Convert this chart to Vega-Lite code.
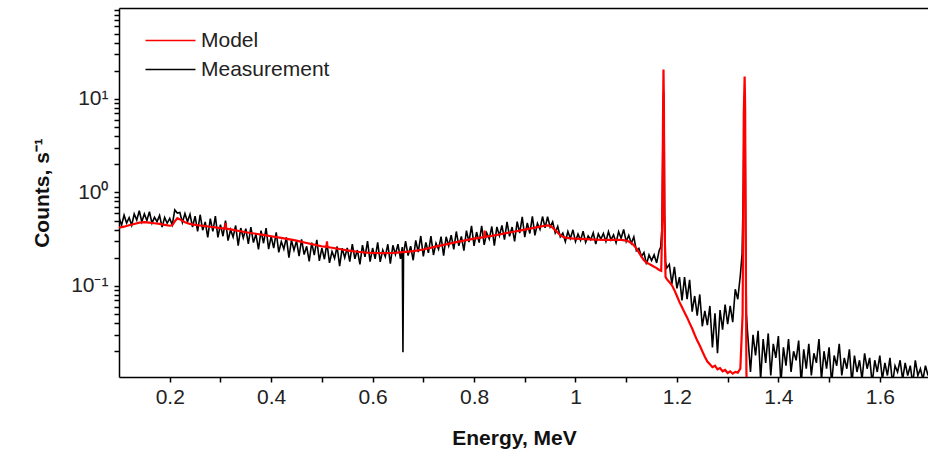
{
  "$schema": "https://vega.github.io/schema/vega-lite/v6.json",
  "width": 809,
  "height": 369,
  "autosize": {"type": "none"},
  "padding": {"left": 119, "top": 8, "right": 0, "bottom": 73},
  "background": "white",
  "config": {
    "font": "Liberation Sans",
    "view": {"stroke": null},
    "axis": {"grid": false}
  },
  "datasets": {
    "measurement": [
      {"E": 0.100, "C": 0.539}, {"E": 0.105, "C": 0.446}, {"E": 0.110, "C": 0.570}, {"E": 0.115, "C": 0.470},
      {"E": 0.120, "C": 0.536}, {"E": 0.125, "C": 0.445}, {"E": 0.130, "C": 0.588}, {"E": 0.135, "C": 0.506},
      {"E": 0.140, "C": 0.637}, {"E": 0.145, "C": 0.485}, {"E": 0.150, "C": 0.589}, {"E": 0.155, "C": 0.501},
      {"E": 0.160, "C": 0.621}, {"E": 0.165, "C": 0.469}, {"E": 0.170, "C": 0.541}, {"E": 0.175, "C": 0.487},
      {"E": 0.180, "C": 0.566}, {"E": 0.185, "C": 0.425}, {"E": 0.190, "C": 0.540}, {"E": 0.195, "C": 0.468},
      {"E": 0.200, "C": 0.528}, {"E": 0.205, "C": 0.450}, {"E": 0.210, "C": 0.650}, {"E": 0.215, "C": 0.601},
      {"E": 0.220, "C": 0.609}, {"E": 0.225, "C": 0.477}, {"E": 0.230, "C": 0.594}, {"E": 0.235, "C": 0.485},
      {"E": 0.240, "C": 0.584}, {"E": 0.245, "C": 0.427},
      {"E": 0.250, "C": 0.558}, {"E": 0.255, "C": 0.383}, {"E": 0.260, "C": 0.577}, {"E": 0.265, "C": 0.394},
      {"E": 0.270, "C": 0.483}, {"E": 0.275, "C": 0.331}, {"E": 0.280, "C": 0.525}, {"E": 0.285, "C": 0.384},
      {"E": 0.290, "C": 0.558}, {"E": 0.295, "C": 0.330}, {"E": 0.300, "C": 0.452}, {"E": 0.305, "C": 0.340},
      {"E": 0.310, "C": 0.500}, {"E": 0.315, "C": 0.305}, {"E": 0.320, "C": 0.399}, {"E": 0.325, "C": 0.333},
      {"E": 0.330, "C": 0.443}, {"E": 0.335, "C": 0.270}, {"E": 0.340, "C": 0.416}, {"E": 0.345, "C": 0.326},
      {"E": 0.350, "C": 0.410}, {"E": 0.355, "C": 0.282}, {"E": 0.360, "C": 0.425}, {"E": 0.365, "C": 0.291},
      {"E": 0.370, "C": 0.357}, {"E": 0.375, "C": 0.246}, {"E": 0.380, "C": 0.390}, {"E": 0.385, "C": 0.286},
      {"E": 0.390, "C": 0.416}, {"E": 0.395, "C": 0.247}, {"E": 0.400, "C": 0.339}, {"E": 0.405, "C": 0.254},
      {"E": 0.410, "C": 0.374}, {"E": 0.415, "C": 0.228}, {"E": 0.420, "C": 0.298}, {"E": 0.425, "C": 0.248},
      {"E": 0.430, "C": 0.330}, {"E": 0.435, "C": 0.200}, {"E": 0.440, "C": 0.308}, {"E": 0.445, "C": 0.241},
      {"E": 0.450, "C": 0.303}, {"E": 0.455, "C": 0.208}, {"E": 0.460, "C": 0.315}, {"E": 0.465, "C": 0.216},
      {"E": 0.470, "C": 0.265}, {"E": 0.475, "C": 0.183}, {"E": 0.480, "C": 0.291}, {"E": 0.485, "C": 0.213},
      {"E": 0.490, "C": 0.311}, {"E": 0.495, "C": 0.185}, {"E": 0.500, "C": 0.254}, {"E": 0.505, "C": 0.193},
      {"E": 0.510, "C": 0.287}, {"E": 0.515, "C": 0.176}, {"E": 0.520, "C": 0.233}, {"E": 0.525, "C": 0.197},
      {"E": 0.530, "C": 0.264}, {"E": 0.535, "C": 0.163}, {"E": 0.540, "C": 0.253}, {"E": 0.545, "C": 0.201},
      {"E": 0.550, "C": 0.255}, {"E": 0.555, "C": 0.182}, {"E": 0.560, "C": 0.280}, {"E": 0.565, "C": 0.195},
      {"E": 0.570, "C": 0.242}, {"E": 0.575, "C": 0.170}, {"E": 0.580, "C": 0.273}, {"E": 0.585, "C": 0.204},
      {"E": 0.590, "C": 0.302}, {"E": 0.595, "C": 0.182}, {"E": 0.600, "C": 0.254}, {"E": 0.605, "C": 0.195},
      {"E": 0.610, "C": 0.292}, {"E": 0.615, "C": 0.181}, {"E": 0.620, "C": 0.242}, {"E": 0.625, "C": 0.206},
      {"E": 0.630, "C": 0.279}, {"E": 0.635, "C": 0.173}, {"E": 0.640, "C": 0.272}, {"E": 0.645, "C": 0.217},
      {"E": 0.650, "C": 0.279}, {"E": 0.655, "C": 0.195}, {"E": 0.6585, "C": 0.26}, {"E": 0.6598, "C": 0.0195},
      {"E": 0.661, "C": 0.22}, {"E": 0.665, "C": 0.301}, {"E": 0.670, "C": 0.211}, {"E": 0.675, "C": 0.266},
      {"E": 0.680, "C": 0.188}, {"E": 0.685, "C": 0.307}, {"E": 0.690, "C": 0.230}, {"E": 0.695, "C": 0.342},
      {"E": 0.700, "C": 0.207}, {"E": 0.705, "C": 0.292}, {"E": 0.710, "C": 0.226}, {"E": 0.715, "C": 0.341},
      {"E": 0.720, "C": 0.214}, {"E": 0.725, "C": 0.287}, {"E": 0.730, "C": 0.247}, {"E": 0.735, "C": 0.337},
      {"E": 0.740, "C": 0.211}, {"E": 0.745, "C": 0.335}, {"E": 0.750, "C": 0.269}, {"E": 0.755, "C": 0.349},
      {"E": 0.760, "C": 0.246}, {"E": 0.765, "C": 0.382}, {"E": 0.770, "C": 0.268}, {"E": 0.775, "C": 0.339},
      {"E": 0.780, "C": 0.239}, {"E": 0.785, "C": 0.390}, {"E": 0.790, "C": 0.294}, {"E": 0.795, "C": 0.439},
      {"E": 0.800, "C": 0.268}, {"E": 0.805, "C": 0.377}, {"E": 0.810, "C": 0.291}, {"E": 0.815, "C": 0.440},
      {"E": 0.820, "C": 0.275}, {"E": 0.825, "C": 0.369}, {"E": 0.830, "C": 0.317}, {"E": 0.835, "C": 0.432},
      {"E": 0.840, "C": 0.270}, {"E": 0.845, "C": 0.427}, {"E": 0.850, "C": 0.344}, {"E": 0.855, "C": 0.444},
      {"E": 0.860, "C": 0.313}, {"E": 0.865, "C": 0.484}, {"E": 0.870, "C": 0.339}, {"E": 0.875, "C": 0.426},
      {"E": 0.880, "C": 0.300}, {"E": 0.885, "C": 0.488}, {"E": 0.890, "C": 0.367}, {"E": 0.895, "C": 0.547},
      {"E": 0.900, "C": 0.333}, {"E": 0.905, "C": 0.471}, {"E": 0.910, "C": 0.364}, {"E": 0.915, "C": 0.553},
      {"E": 0.920, "C": 0.347}, {"E": 0.925, "C": 0.467}, {"E": 0.930, "C": 0.403}, {"E": 0.935, "C": 0.552},
      {"E": 0.940, "C": 0.417}, {"E": 0.945, "C": 0.549}, {"E": 0.950, "C": 0.427}, {"E": 0.955, "C": 0.484},
      {"E": 0.960, "C": 0.369}, {"E": 0.965, "C": 0.433}, {"E": 0.970, "C": 0.335}, {"E": 0.975, "C": 0.368},
      {"E": 0.980, "C": 0.297}, {"E": 0.985, "C": 0.381}, {"E": 0.990, "C": 0.321}, {"E": 0.995, "C": 0.398},
      {"E": 1.000, "C": 0.298}, {"E": 1.005, "C": 0.358}, {"E": 1.010, "C": 0.307}, {"E": 1.015, "C": 0.384},
      {"E": 1.020, "C": 0.293}, {"E": 1.025, "C": 0.343}, {"E": 1.030, "C": 0.312}, {"E": 1.035, "C": 0.369},
      {"E": 1.040, "C": 0.281}, {"E": 1.045, "C": 0.361}, {"E": 1.050, "C": 0.317}, {"E": 1.055, "C": 0.364},
      {"E": 1.060, "C": 0.299}, {"E": 1.065, "C": 0.380}, {"E": 1.070, "C": 0.311}, {"E": 1.075, "C": 0.352},
      {"E": 1.080, "C": 0.289}, {"E": 1.085, "C": 0.379}, {"E": 1.090, "C": 0.323}, {"E": 1.095, "C": 0.401},
      {"E": 1.100, "C": 0.298}, {"E": 1.105, "C": 0.348}, {"E": 1.110, "C": 0.285}, {"E": 1.115, "C": 0.334},
      {"E": 1.120, "C": 0.238}, {"E": 1.125, "C": 0.252}, {"E": 1.130, "C": 0.207}, {"E": 1.135, "C": 0.228},
      {"E": 1.140, "C": 0.170}, {"E": 1.145, "C": 0.215}, {"E": 1.150, "C": 0.187}, {"E": 1.155, "C": 0.215},
      {"E": 1.160, "C": 0.176}, {"E": 1.165, "C": 0.239}, {"E": 1.168, "C": 0.26}, {"E": 1.1705, "C": 0.42},
      {"E": 1.1720, "C": 2.5}, {"E": 1.1730, "C": 8}, {"E": 1.1738, "C": 12}, {"E": 1.1748, "C": 5},
      {"E": 1.1758, "C": 0.6}, {"E": 1.1775, "C": 0.18}, {"E": 1.180, "C": 0.155}, {"E": 1.185, "C": 0.17},
      {"E": 1.190, "C": 0.105}, {"E": 1.195, "C": 0.16}, {"E": 1.200, "C": 0.094}, {"E": 1.205, "C": 0.124},
      {"E": 1.210, "C": 0.070}, {"E": 1.215, "C": 0.124}, {"E": 1.220, "C": 0.072}, {"E": 1.225, "C": 0.116},
      {"E": 1.230, "C": 0.053}, {"E": 1.235, "C": 0.078}, {"E": 1.240, "C": 0.048}, {"E": 1.245, "C": 0.081},
      {"E": 1.250, "C": 0.037}, {"E": 1.255, "C": 0.054}, {"E": 1.260, "C": 0.038}, {"E": 1.265, "C": 0.061},
      {"E": 1.270, "C": 0.022}, {"E": 1.275, "C": 0.051}, {"E": 1.280, "C": 0.019}, {"E": 1.285, "C": 0.055},
      {"E": 1.290, "C": 0.034}, {"E": 1.295, "C": 0.063}, {"E": 1.300, "C": 0.039}, {"E": 1.305, "C": 0.061},
      {"E": 1.310, "C": 0.041}, {"E": 1.315, "C": 0.092}, {"E": 1.320, "C": 0.072}, {"E": 1.325, "C": 0.13},
      {"E": 1.3285, "C": 0.22}, {"E": 1.3310, "C": 1.2}, {"E": 1.3325, "C": 8}, {"E": 1.3335, "C": 11},
      {"E": 1.3345, "C": 4}, {"E": 1.3355, "C": 0.4}, {"E": 1.337, "C": 0.05}, {"E": 1.339, "C": 0.033},
      {"E": 1.345, "C": 0.012}, {"E": 1.350, "C": 0.030}, {"E": 1.355, "C": 0.018}, {"E": 1.360, "C": 0.033},
      {"E": 1.365, "C": 0.010}, {"E": 1.370, "C": 0.027}, {"E": 1.375, "C": 0.015}, {"E": 1.380, "C": 0.031},
      {"E": 1.385, "C": 0.011}, {"E": 1.390, "C": 0.024}, {"E": 1.395, "C": 0.017}, {"E": 1.400, "C": 0.029},
      {"E": 1.405, "C": 0.009}, {"E": 1.410, "C": 0.022}, {"E": 1.415, "C": 0.014}, {"E": 1.420, "C": 0.027},
      {"E": 1.425, "C": 0.012}, {"E": 1.430, "C": 0.020}, {"E": 1.435, "C": 0.016}, {"E": 1.440, "C": 0.026},
      {"E": 1.445, "C": 0.009}, {"E": 1.450, "C": 0.021}, {"E": 1.455, "C": 0.013}, {"E": 1.460, "C": 0.024},
      {"E": 1.465, "C": 0.011}, {"E": 1.470, "C": 0.019}, {"E": 1.475, "C": 0.015}, {"E": 1.480, "C": 0.027},
      {"E": 1.485, "C": 0.010}, {"E": 1.490, "C": 0.020}, {"E": 1.495, "C": 0.013}, {"E": 1.500, "C": 0.022},
      {"E": 1.505, "C": 0.009}, {"E": 1.510, "C": 0.018}, {"E": 1.515, "C": 0.014}, {"E": 1.520, "C": 0.024},
      {"E": 1.525, "C": 0.011}, {"E": 1.530, "C": 0.017}, {"E": 1.535, "C": 0.013}, {"E": 1.540, "C": 0.021},
      {"E": 1.545, "C": 0.009}, {"E": 1.550, "C": 0.018}, {"E": 1.555, "C": 0.012}, {"E": 1.560, "C": 0.016},
      {"E": 1.565, "C": 0.010}, {"E": 1.570, "C": 0.019}, {"E": 1.575, "C": 0.013}, {"E": 1.580, "C": 0.017},
      {"E": 1.585, "C": 0.009}, {"E": 1.590, "C": 0.016}, {"E": 1.595, "C": 0.012}, {"E": 1.600, "C": 0.018},
      {"E": 1.605, "C": 0.010}, {"E": 1.610, "C": 0.015}, {"E": 1.615, "C": 0.011}, {"E": 1.620, "C": 0.017},
      {"E": 1.625, "C": 0.009}, {"E": 1.630, "C": 0.014}, {"E": 1.635, "C": 0.012}, {"E": 1.640, "C": 0.016},
      {"E": 1.645, "C": 0.010}, {"E": 1.650, "C": 0.015}, {"E": 1.655, "C": 0.011}, {"E": 1.660, "C": 0.014},
      {"E": 1.665, "C": 0.009}, {"E": 1.670, "C": 0.016}, {"E": 1.675, "C": 0.011}, {"E": 1.680, "C": 0.013},
      {"E": 1.685, "C": 0.010}, {"E": 1.690, "C": 0.014}, {"E": 1.695, "C": 0.011}
    ],
    "model": [
      {"E": 0.10, "C": 0.42}, {"E": 0.11, "C": 0.43}, {"E": 0.12, "C": 0.445}, {"E": 0.13, "C": 0.46},
      {"E": 0.14, "C": 0.475}, {"E": 0.15, "C": 0.48}, {"E": 0.16, "C": 0.475}, {"E": 0.17, "C": 0.468},
      {"E": 0.18, "C": 0.46}, {"E": 0.19, "C": 0.45}, {"E": 0.20, "C": 0.44}, {"E": 0.205, "C": 0.445},
      {"E": 0.21, "C": 0.49}, {"E": 0.215, "C": 0.53}, {"E": 0.22, "C": 0.515}, {"E": 0.23, "C": 0.48},
      {"E": 0.24, "C": 0.46}, {"E": 0.25, "C": 0.45}, {"E": 0.26, "C": 0.443}, {"E": 0.27, "C": 0.436},
      {"E": 0.28, "C": 0.429}, {"E": 0.29, "C": 0.422}, {"E": 0.30, "C": 0.415}, {"E": 0.305, "C": 0.412},
      {"E": 0.309, "C": 0.41}, {"E": 0.31, "C": 0.47}, {"E": 0.311, "C": 0.41}, {"E": 0.32, "C": 0.402},
      {"E": 0.33, "C": 0.393}, {"E": 0.34, "C": 0.384}, {"E": 0.35, "C": 0.375}, {"E": 0.36, "C": 0.368},
      {"E": 0.37, "C": 0.361}, {"E": 0.38, "C": 0.354}, {"E": 0.39, "C": 0.347}, {"E": 0.40, "C": 0.34},
      {"E": 0.41, "C": 0.333}, {"E": 0.42, "C": 0.326}, {"E": 0.43, "C": 0.319}, {"E": 0.44, "C": 0.312},
      {"E": 0.45, "C": 0.305}, {"E": 0.46, "C": 0.296}, {"E": 0.47, "C": 0.288}, {"E": 0.48, "C": 0.28},
      {"E": 0.49, "C": 0.272}, {"E": 0.50, "C": 0.265}, {"E": 0.509, "C": 0.262}, {"E": 0.51, "C": 0.30},
      {"E": 0.511, "C": 0.26}, {"E": 0.52, "C": 0.256}, {"E": 0.53, "C": 0.251}, {"E": 0.54, "C": 0.245},
      {"E": 0.55, "C": 0.24}, {"E": 0.56, "C": 0.236}, {"E": 0.57, "C": 0.232}, {"E": 0.58, "C": 0.229},
      {"E": 0.59, "C": 0.227}, {"E": 0.60, "C": 0.225}, {"E": 0.62, "C": 0.224}, {"E": 0.64, "C": 0.225},
      {"E": 0.66, "C": 0.23}, {"E": 0.68, "C": 0.236}, {"E": 0.70, "C": 0.245}, {"E": 0.72, "C": 0.26},
      {"E": 0.74, "C": 0.275}, {"E": 0.76, "C": 0.29}, {"E": 0.78, "C": 0.305}, {"E": 0.80, "C": 0.32},
      {"E": 0.81, "C": 0.327}, {"E": 0.82, "C": 0.333}, {"E": 0.821, "C": 0.39}, {"E": 0.822, "C": 0.334},
      {"E": 0.83, "C": 0.34}, {"E": 0.84, "C": 0.347}, {"E": 0.85, "C": 0.355}, {"E": 0.86, "C": 0.364},
      {"E": 0.87, "C": 0.373}, {"E": 0.88, "C": 0.382}, {"E": 0.89, "C": 0.391}, {"E": 0.90, "C": 0.40},
      {"E": 0.91, "C": 0.41}, {"E": 0.92, "C": 0.42}, {"E": 0.93, "C": 0.43}, {"E": 0.94, "C": 0.44},
      {"E": 0.945, "C": 0.445}, {"E": 0.95, "C": 0.44}, {"E": 0.955, "C": 0.42}, {"E": 0.96, "C": 0.395},
      {"E": 0.965, "C": 0.37}, {"E": 0.97, "C": 0.35}, {"E": 0.975, "C": 0.335}, {"E": 0.98, "C": 0.328},
      {"E": 0.99, "C": 0.323}, {"E": 1.00, "C": 0.32}, {"E": 1.02, "C": 0.316}, {"E": 1.04, "C": 0.312},
      {"E": 1.06, "C": 0.31}, {"E": 1.08, "C": 0.31}, {"E": 1.09, "C": 0.31}, {"E": 1.10, "C": 0.305},
      {"E": 1.105, "C": 0.298}, {"E": 1.11, "C": 0.288}, {"E": 1.115, "C": 0.272}, {"E": 1.12, "C": 0.252},
      {"E": 1.125, "C": 0.228}, {"E": 1.13, "C": 0.205}, {"E": 1.135, "C": 0.188}, {"E": 1.14, "C": 0.178},
      {"E": 1.145, "C": 0.172}, {"E": 1.15, "C": 0.166}, {"E": 1.155, "C": 0.16}, {"E": 1.16, "C": 0.155},
      {"E": 1.165, "C": 0.148}, {"E": 1.169, "C": 0.145}, {"E": 1.1712, "C": 0.5}, {"E": 1.1727, "C": 8},
      {"E": 1.1735, "C": 20.7}, {"E": 1.1743, "C": 9}, {"E": 1.1753, "C": 0.6}, {"E": 1.1775, "C": 0.125},
      {"E": 1.18, "C": 0.118}, {"E": 1.185, "C": 0.11}, {"E": 1.19, "C": 0.102}, {"E": 1.195, "C": 0.09},
      {"E": 1.20, "C": 0.078}, {"E": 1.205, "C": 0.067}, {"E": 1.21, "C": 0.059}, {"E": 1.215, "C": 0.052},
      {"E": 1.22, "C": 0.046}, {"E": 1.225, "C": 0.04}, {"E": 1.23, "C": 0.035}, {"E": 1.235, "C": 0.03},
      {"E": 1.24, "C": 0.026}, {"E": 1.245, "C": 0.023}, {"E": 1.25, "C": 0.020}, {"E": 1.255, "C": 0.0175},
      {"E": 1.26, "C": 0.0155}, {"E": 1.265, "C": 0.0145}, {"E": 1.27, "C": 0.0135}, {"E": 1.275, "C": 0.014},
      {"E": 1.28, "C": 0.0128}, {"E": 1.285, "C": 0.0132}, {"E": 1.29, "C": 0.0122}, {"E": 1.295, "C": 0.0126},
      {"E": 1.30, "C": 0.0117}, {"E": 1.305, "C": 0.0122}, {"E": 1.31, "C": 0.0115}, {"E": 1.315, "C": 0.012},
      {"E": 1.32, "C": 0.0118}, {"E": 1.325, "C": 0.013}, {"E": 1.3295, "C": 0.05}, {"E": 1.3318, "C": 7},
      {"E": 1.3335, "C": 17.4}, {"E": 1.3345, "C": 8}, {"E": 1.3355, "C": 0.4}, {"E": 1.337, "C": 0.012},
      {"E": 1.339, "C": 0.005}
    ]
  },
  "layer": [
    {
      "data": {"name": "measurement"},
      "mark": {"type": "line", "strokeWidth": 1.6, "clip": true, "interpolate": "linear"},
      "encoding": {
        "x": {
          "field": "E",
          "type": "quantitative",
          "scale": {"domain": [0.1, 1.695], "nice": false, "zero": false},
          "axis": {
            "orient": "bottom",
            "title": "Energy, MeV",
            "values": [0.2, 0.3, 0.4, 0.5, 0.6, 0.7, 0.8, 0.9, 1, 1.1, 1.2, 1.3, 1.4, 1.5, 1.6],
            "labelExpr": "round(datum.value * 10) % 2 == 0 ? format(datum.value, '~g') : ''",
            "labelOverlap": false,
            "labelFlush": false,
            "labelFontSize": 21,
            "labelColor": "#222222",
            "labelPadding": 4,
            "ticks": true,
            "tickSize": 5,
            "tickColor": "black",
            "tickWidth": 1.5,
            "domainColor": "black",
            "domainWidth": 1.5,
            "titleFontSize": 21,
            "titleFontWeight": "bold",
            "titleColor": "#111111",
            "titleX": 395,
            "titleY": 50,
            "titleBaseline": "top",
            "titleAlign": "center"
          }
        },
        "y": {
          "field": "C",
          "type": "quantitative",
          "scale": {"type": "log", "domain": [0.0106, 94], "nice": false},
          "axis": {
            "orient": "left",
            "title": "Counts, s⁻¹",
            "values": [0.02, 0.03, 0.04, 0.05, 0.06, 0.07, 0.08, 0.09, 0.1, 0.2, 0.3, 0.4, 0.5, 0.6, 0.7, 0.8, 0.9, 1, 2, 3, 4, 5, 6, 7, 8, 9, 10, 20, 30, 40, 50, 60, 70, 80, 90],
            "labelExpr": "datum.value == 10 ? '10¹' : datum.value == 1 ? '10⁰' : datum.value == 0.1 ? '10⁻¹' : ''",
            "labelOverlap": false,
            "labelFontSize": 21,
            "labelColor": "#222222",
            "labelPadding": 6,
            "ticks": true,
            "tickSize": 5,
            "tickColor": "black",
            "tickWidth": 1.5,
            "domainColor": "black",
            "domainWidth": 1.5,
            "titleFontSize": 21,
            "titleFontWeight": "bold",
            "titleColor": "#111111",
            "titlePadding": 18
          }
        },
        "color": {
          "datum": "Measurement",
          "type": "nominal",
          "scale": {"domain": ["Model", "Measurement"], "range": ["#ff0000", "#000000"]},
          "legend": {
            "title": null,
            "orient": "none",
            "legendX": 41,
            "legendY": 22,
            "padding": 0,
            "symbolType": "M-5,0H5",
            "symbolSize": 100,
            "symbolStrokeWidth": 1.5,
            "labelFontSize": 21,
            "labelColor": "#222222",
            "labelOffset": 20,
            "rowPadding": 7
          }
        }
      }
    },
    {
      "data": {"name": "model"},
      "mark": {"type": "line", "strokeWidth": 2.2, "clip": true, "interpolate": "linear"},
      "encoding": {
        "x": {
          "field": "E",
          "type": "quantitative",
          "scale": {"domain": [0.1, 1.695], "nice": false, "zero": false},
          "axis": {
            "orient": "top",
            "title": null,
            "labels": false,
            "ticks": false,
            "domainColor": "black",
            "domainWidth": 1.5
          }
        },
        "y": {"field": "C", "type": "quantitative", "scale": {"type": "log", "domain": [0.0106, 94], "nice": false}, "axis": null},
        "color": {
          "datum": "Model",
          "type": "nominal",
          "scale": {"domain": ["Model", "Measurement"], "range": ["#ff0000", "#000000"]}
        }
      }
    }
  ],
  "resolve": {"axis": {"x": "independent", "y": "independent"}}
}
